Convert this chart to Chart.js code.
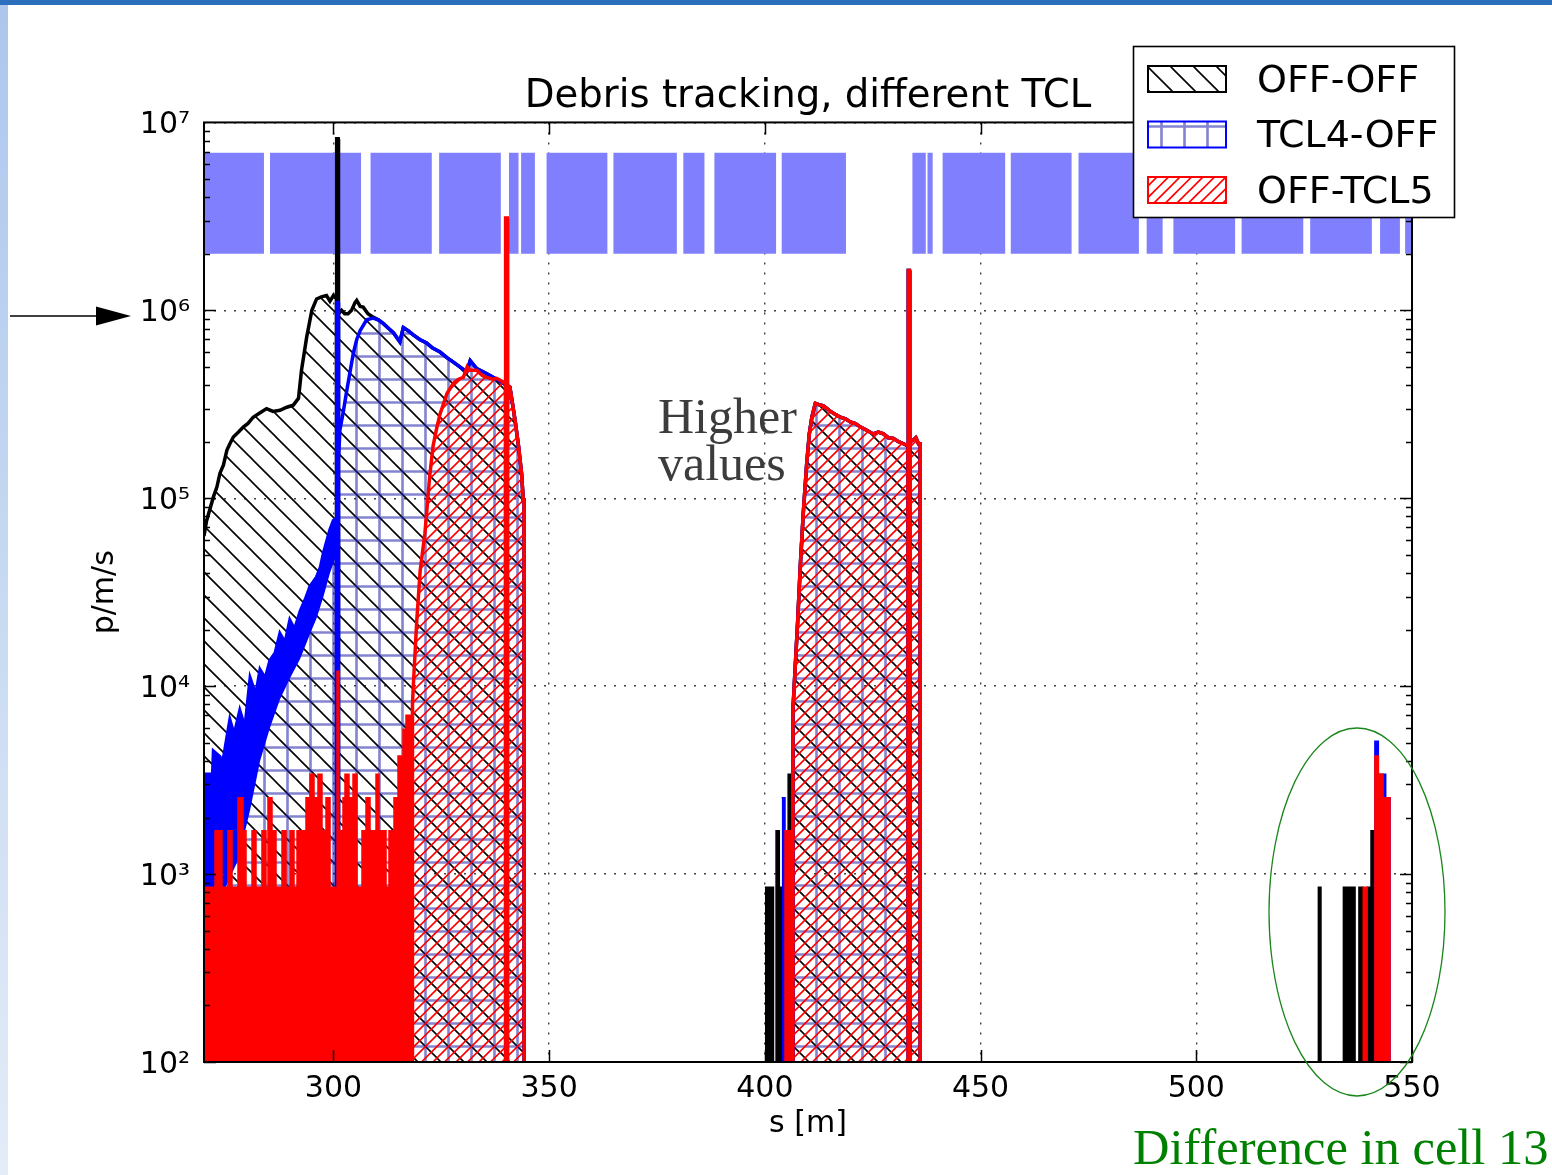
<!DOCTYPE html>
<html>
<head>
<meta charset="utf-8">
<title>Debris tracking, different TCL</title>
<script src="https://cdn.jsdelivr.net/npm/chart.js@4.4.1/dist/chart.umd.min.js"></script>
<style>
  html, body { margin: 0; padding: 0; background: #fff; }
  #wrap { position: relative; width: 1552px; height: 1175px; overflow: hidden; }
  #plot { position: absolute; left: 0; top: 0; }
  #topbar { position: absolute; left: 0; top: 0; width: 1552px; height: 5px; background: #2c6fbd; }
  #sidebar { position: absolute; left: 0; top: 5px; width: 8px; height: 1170px; background: linear-gradient(#adc7ec, #e3ecf7); }
  .note { position: absolute; font-family: "Liberation Serif", serif; white-space: nowrap; }
  #marks { position: absolute; left: 0; top: 0; pointer-events: none; }
</style>
</head>
<body>
<div id="wrap">
  <canvas id="plot" width="1552" height="1175"></canvas>
  <div id="topbar"></div>
  <div id="sidebar"></div>
  <svg id="marks" width="1552" height="1175">
    <line x1="10" y1="316" x2="100" y2="316" stroke="#000" stroke-width="1.5"/>
    <polygon points="96,306.5 131,316 96,325.5" fill="#000"/>
    <ellipse cx="1357" cy="912" rx="88" ry="184" fill="none" stroke="#1b861b" stroke-width="1.3"/>
  </svg>
  <div class="note" style="left:658px;top:393px;font-size:50px;line-height:47px;color:#3c3c3c;">Higher<br>values</div>
  <div class="note" style="left:1133px;top:1123px;font-size:50.5px;line-height:49px;color:#008000;">Difference in cell 13</div>
</div>

<script>
// ---- values: s [m], rate [p/m/s] ----
const EMPTY = 1; // empty bin, lands below the 1e2 floor

const xTicks = [300, 350, 400, 450, 500, 550];
const yTicks = [1e2, 1e3, 1e4, 1e5, 1e6, 1e7];
const yTickLabels = ["10²", "10³", "10⁴", "10⁵", "10⁶", "10⁷"];
const seriesNames = ["OFF-OFF", "TCL4-OFF", "OFF-TCL5"];

// machine elements (blue blocks on top)
const elemStart = [270, 285.3, 308.6, 324.5, 340.7, 343.5, 349.4, 364.9, 381.1, 388.3, 403.9, 434.2, 437.7, 441.2, 457.0, 472.7, 488.5, 494.7, 510.5, 526.4, 542.6, 548.4];
const elemEnd   = [283.9, 306.4, 322.8, 338.8, 342.9, 346.7, 363.5, 379.6, 386.0, 402.6, 418.8, 437.3, 438.9, 455.7, 471.1, 486.7, 492.2, 509.0, 524.8, 540.7, 547.2, 550];
const elemLow = 2e6, elemHigh = 6.9e6;

// OFF-OFF, upstream part
const offOffS = [270.0, 270.6, 271.4, 272.2, 273.0, 273.7, 274.5, 275.3, 276.0, 276.8, 278.0, 279.1, 280.2, 281.4, 283.0, 284.5, 286.0, 287.6, 289.2, 290.7, 291.9, 292.6, 293.8, 295.0, 296.1, 297.2, 298.4, 299.2, 300.0, 300.7, 300.72, 300.78, 301.1, 301.16, 301.2, 301.9, 302.6, 303.4, 304.2, 305.0, 305.4, 306.2, 306.9, 308.0, 309.2];
const offOffV = [6.3e4, 7.6e4, 8.8e4, 1.02e5, 1.15e5, 1.36e5, 1.5e5, 1.8e5, 1.95e5, 2.12e5, 2.25e5, 2.39e5, 2.5e5, 2.7e5, 2.85e5, 3.0e5, 2.9e5, 2.94e5, 3.05e5, 3.13e5, 3.4e5, 4.8e5, 7.2e5, 1.0e6, 1.15e6, 1.18e6, 1.2e6, 1.12e6, 1.2e6, 1.15e6, EMPTY, 8.2e6, 8.2e6, EMPTY, 9.6e5, 1.0e6, 9.6e5, 9.6e5, 1.0e6, 1.1e6, 1.13e6, 1.05e6, 1.04e6, 9.6e5, 9.2e5];

// TCL4-OFF, upstream part (top of the noisy rise)
const tcl4S = [270.0, 272.0, 272.2, 273.7, 274.0, 276.0, 277.0, 278.3, 279.5, 280.7, 282.0, 283.0, 284.2, 285.3, 286.5, 287.6, 288.8, 289.9, 291.0, 292.3, 293.5, 294.6, 296.1, 297.0, 297.7, 299.2, 300.0, 300.7, 300.72, 300.78, 301.1, 301.16, 301.2, 301.5, 302.3, 303.1, 304.6, 305.4, 306.2, 307.7, 309.2];
const tcl4V = [3.4e3, 3.4e3, 4.5e3, 4.2e3, 3.5e3, 6.6e3, 5.5e3, 7.4e3, 6.0e3, 1.1e4, 9.0e3, 1.22e4, 1.1e4, 1.37e4, 1.5e4, 1.9e4, 1.7e4, 2.24e4, 2.0e4, 2.5e4, 2.9e4, 3.4e4, 3.8e4, 4.3e4, 5.1e4, 6.8e4, 7.6e4, 7.8e4, EMPTY, 1.1e6, 1.1e6, EMPTY, 1.6e5, 2.3e5, 2.9e5, 3.75e5, 5.9e5, 7.0e5, 7.8e5, 8.9e5, 9.1e5];
// lower edge of the dense TCL4-OFF noise
const tcl4LowS = [270.0, 275.0, 278.0, 280.7, 283.0, 285.3, 287.6, 289.9, 292.3, 294.6, 296.1, 297.7, 299.2, 300.7];
const tcl4LowV = [850, 850, 1200, 2200, 4000, 6000, 8500, 1.1e4, 1.4e4, 1.9e4, 2.3e4, 3.0e4, 4.0e4, 5.0e4];

// 310-344 m: OFF-OFF and TCL4-OFF coincide
const sharedS = [310.4, 311.6, 312.8, 313.9, 315.4, 316.2, 317.3, 318.5, 320.0, 321.6, 323.0, 324.7, 326.3, 327.8, 329.3, 330.9, 331.7, 333.2, 334.8, 336.3, 338.6, 340.9, 342.1, 342.9, 343.6, 344.0, 344.2, 344.22];
const sharedV = [8.9e5, 8.5e5, 8.0e5, 7.6e5, 6.8e5, 8.1e5, 7.8e5, 7.4e5, 7.0e5, 6.7e5, 6.3e5, 6.0e5, 5.6e5, 5.3e5, 5.0e5, 4.7e5, 5.4e5, 4.9e5, 4.7e5, 4.5e5, 4.2e5, 3.9e5, 2.6e5, 1.9e5, 1.36e5, 9.8e4, 9.8e4, EMPTY];

// OFF-TCL5, first bump
const tcl5S = [318.3, 318.32, 318.5, 319.3, 320.1, 321.2, 321.6, 322.3, 323.1, 324.0, 324.7, 326.3, 327.8, 329.0, 330.1, 331.0, 331.7, 333.2, 334.5, 335.5, 337.0, 337.8, 339.85, 339.87, 339.95, 340.3, 340.38, 340.4, 340.9, 342.1, 342.9, 343.6, 344.0, 344.2, 344.22];
const tcl5V = [EMPTY, 8.0e3, 9.9e3, 2.2e4, 4.1e4, 6.5e4, 8.3e4, 1.3e5, 1.9e5, 2.4e5, 2.8e5, 3.6e5, 4.1e5, 4.3e5, 4.4e5, 5.0e5, 4.8e5, 4.8e5, 4.5e5, 4.4e5, 4.3e5, 4.35e5, 4.1e5, EMPTY, 3.1e6, 3.1e6, EMPTY, 4.0e5, 3.9e5, 2.6e5, 1.9e5, 1.36e5, 9.8e4, 9.8e4, EMPTY];

// 406-436 m: all three runs coincide
const downS = [406.45, 406.5, 407.0, 407.6, 408.2, 408.9, 409.7, 410.3, 410.9, 411.7, 412.5, 413.6, 414.4, 415.2, 416.3, 417.5, 418.7, 419.8, 421.0, 422.1, 423.6, 425.1, 426.3, 427.5, 428.6, 429.8, 431.0, 432.1, 433.2, 433.22, 433.28, 433.5, 433.56, 433.6, 434.4, 435.0, 435.6, 436.0, 436.02];
const downV = [EMPTY, 7.4e3, 1.22e4, 2.2e4, 4.3e4, 8.3e4, 1.53e5, 2.2e5, 2.7e5, 3.2e5, 3.15e5, 3.1e5, 3.0e5, 2.9e5, 2.8e5, 2.7e5, 2.65e5, 2.55e5, 2.5e5, 2.4e5, 2.3e5, 2.2e5, 2.25e5, 2.2e5, 2.1e5, 2.08e5, 2.0e5, 1.95e5, 1.9e5, EMPTY, 1.63e6, 1.63e6, EMPTY, 2.0e5, 2.04e5, 2.1e5, 1.95e5, 1.95e5, EMPTY];

// low-statistics bins (one count ~ 850 p/m/s), value holds from each bin start
const offOffLowS = [400.0, 402.0, 402.6, 403.35, 405.4, 406.3, 528.3, 528.9, 534.1, 536.8, 537.7, 538.6, 539.6, 540.5, 541.4];
const offOffLowV = [850, EMPTY, 1700, 850, 3400, EMPTY, 850, EMPTY, 850, EMPTY, 850, EMPTY, 850, 1700, EMPTY];
const tcl4LowBinsS = [403.9, 404.67, 541.4, 542.2, 543.9, 544.9];
const tcl4LowBinsV = [2550, EMPTY, 5100, 3400, 2550, EMPTY];
const tcl5LowS = [270.0, 272.55, 274.17, 275.56, 276.49, 277.88, 279.04, 279.74, 281.13, 282.05, 283.44, 284.37, 284.83, 285.76, 286.69, 288.08, 289.01, 289.93, 290.86, 291.56, 293.64, 294.57, 295.5, 296.42, 297.35, 298.28, 299.21, 300.83, 301.29, 301.99, 302.22, 302.68, 303.61, 304.54, 305.46, 306.62, 307.55, 308.48, 309.87, 310.56, 311.03, 311.26, 312.19, 312.88, 313.81, 314.04, 314.97, 316.13, 316.59, 316.82, 318.45, 404.67, 406.5, 538.7, 539.6, 541.4, 542.2, 543.3, 544.9];
const tcl5LowV = [850, 1700, 850, 1700, 850, 2550, 1700, 850, 1700, 850, 1700, 850, 2550, 1700, 850, 1700, 850, 1700, 850, 1700, 2550, 3400, 2550, 3400, 1700, 2550, 850, 1.2e4, 1700, EMPTY, 2550, 3400, 2550, 3400, 850, 1700, 2550, 1700, 3400, 1700, EMPTY, 1700, 850, 1700, EMPTY, 2550, 4250, 5900, EMPTY, 7000, EMPTY, 1700, EMPTY, 850, EMPTY, 4250, 3400, 2550, EMPTY];

// ---- helpers ----
const pts = (s, v) => s.map((x, i) => ({ x, y: v[i] }));

function hatch(kind, color, lw) {
  const n = 23;
  const c = document.createElement("canvas");
  c.width = c.height = n;
  const g = c.getContext("2d");
  g.strokeStyle = color;
  g.lineWidth = lw;
  g.beginPath();
  if (kind === "\\") {
    for (const k of [-n, 0, n]) { g.moveTo(k - 1, -1); g.lineTo(k + n + 1, n + 1); }
  } else if (kind === "/") {
    for (const k of [0, n / 2, n, 1.5 * n, 2 * n]) { g.moveTo(k + 1, -1); g.lineTo(k - n - 1, n + 1); }
  } else {
    g.moveTo(0, n / 2); g.lineTo(n, n / 2);
    g.moveTo(n / 2, 0); g.lineTo(n / 2, n);
  }
  g.stroke();
  return g.createPattern(c, "repeat");
}

const ctx = document.getElementById("plot").getContext("2d");
const hatchBlack = hatch("\\", "#000", 1.6);
const hatchBlue = hatch("+", "rgba(30,30,170,0.55)", 2.6);
const hatchRed = hatch("/", "#f00", 1.6);
const legendStyles = [
  { fill: hatchBlack, edge: "#000" },
  { fill: hatchBlue, edge: "#00f" },
  { fill: hatchRed, edge: "#f00" },
];

// element blocks as a comb outline filled down to elemLow
const elemPts = [];
elemStart.forEach((a, i) => {
  const b = elemEnd[i];
  elemPts.push({ x: a, y: elemLow }, { x: a, y: elemHigh }, { x: b, y: elemHigh }, { x: b, y: elemLow });
});

const line = (extra) => Object.assign({
  pointRadius: 0, borderWidth: 3.5, tension: 0, fill: "start", borderJoinStyle: "miter",
}, extra);

const datasets = [
  line({ label: "elements", data: elemPts, borderWidth: 0, backgroundColor: "#8080ff", fill: { value: elemLow }, order: 10 }),
  line({ label: seriesNames[0], data: pts([...offOffS, ...sharedS, ...downS, 550], [...offOffV, ...sharedV, ...downV, EMPTY]),
         borderColor: "#000", backgroundColor: hatchBlack, order: 9 }),
  line({ label: seriesNames[0] + " low", data: pts(offOffLowS, offOffLowV), stepped: true,
         borderColor: "#000", backgroundColor: "#000", borderWidth: 1.5, order: 8 }),
  line({ label: seriesNames[1], data: pts([...tcl4S, ...sharedS, ...downS, 550], [...tcl4V, ...sharedV, ...downV, EMPTY]),
         borderColor: "#00f", backgroundColor: hatchBlue, order: 7 }),
  line({ label: seriesNames[1] + " noise", data: pts(tcl4LowS, tcl4LowV), borderWidth: 0,
         backgroundColor: "#00f", fill: "-1", order: 6 }),
  line({ label: seriesNames[1] + " low", data: pts(tcl4LowBinsS, tcl4LowBinsV), stepped: true,
         borderColor: "#00f", backgroundColor: "#00f", borderWidth: 1.5, order: 5 }),
  line({ label: seriesNames[2], data: pts([...tcl5S, ...downS, 550], [...tcl5V, ...downV, EMPTY]),
         borderColor: "#f00", backgroundColor: hatchRed, order: 4 }),
  line({ label: seriesNames[2] + " low", data: pts(tcl5LowS, tcl5LowV), stepped: true,
         borderColor: "#f00", backgroundColor: "#f00", borderWidth: 1.5, order: 3 }),
];

// inside ticks, frame and the legend box
const framePlugin = {
  id: "frame",
  afterDraw(chart) {
    const { ctx: g, chartArea: a, scales: { x, y } } = chart;
    g.save();
    g.strokeStyle = "#000";
    g.lineWidth = 1.5;
    g.beginPath();
    xTicks.forEach((v) => {
      const px = Math.round(x.getPixelForValue(v)) + 0.5;
      g.moveTo(px, a.bottom); g.lineTo(px, a.bottom - 12);
      g.moveTo(px, a.top); g.lineTo(px, a.top + 12);
    });
    for (let e = 2; e <= 6; e++) {
      for (let m = 1; m <= 9; m++) {
        const py = Math.round(y.getPixelForValue(m * Math.pow(10, e))) + 0.5;
        const len = m === 1 ? 12 : 6;
        g.moveTo(a.left, py); g.lineTo(a.left + len, py);
        g.moveTo(a.right, py); g.lineTo(a.right - len, py);
      }
    }
    g.stroke();
    g.lineWidth = 2;
    g.strokeRect(a.left, a.top, a.right - a.left, a.bottom - a.top);

    // legend
    g.fillStyle = "#fff";
    g.fillRect(1133, 46, 322, 172);
    g.lineWidth = 1.6;
    g.strokeStyle = "#000";
    g.strokeRect(1133.5, 46.5, 321, 171);
    g.font = "38px 'DejaVu Sans'";
    g.textBaseline = "middle";
    g.textAlign = "left";
    seriesNames.forEach((name, i) => {
      const top = 66 + i * 55.5;
      g.fillStyle = legendStyles[i].fill;
      g.fillRect(1148, top, 78, 26);
      g.strokeStyle = legendStyles[i].edge;
      g.lineWidth = 2;
      g.strokeRect(1148, top, 78, 26);
      g.fillStyle = "#000";
      g.fillText(name, 1257, top + 16);
    });
    g.restore();
  },
};

Chart.defaults.font.family = "'DejaVu Sans', sans-serif";
Chart.defaults.color = "#000";

new Chart(ctx, {
  type: "line",
  data: { datasets },
  plugins: [framePlugin],
  options: {
    responsive: false,
    animation: false,
    events: [],
    layout: { padding: { top: 60, right: 140, left: 0, bottom: 0 } },
    plugins: {
      legend: { display: false },
      tooltip: { enabled: false },
      title: {
        display: true,
        text: "Debris tracking, different TCL",
        fullSize: false,
        font: { size: 38.7, weight: "normal" },
        padding: { top: 14, bottom: 2 },
      },
    },
    scales: {
      x: {
        type: "linear",
        min: 270,
        max: 550,
        z: 1,
        afterFit: (s) => { s.height = 113; },
        afterBuildTicks: (s) => { s.ticks = xTicks.map((v) => ({ value: v })); },
        ticks: { font: { size: 30 }, padding: 9, autoSkip: false, maxRotation: 0 },
        grid: { drawTicks: false, color: "rgba(0,0,0,0.75)", lineWidth: 1.4 },
        border: { display: false, dash: [2, 8] },
        title: { display: true, text: "s [m]", font: { size: 30 }, padding: { top: 0, bottom: 33 } },
      },
      y: {
        type: "logarithmic",
        min: 1e2,
        max: 1e7,
        z: 1,
        afterFit: (s) => { s.width = 204; },
        afterBuildTicks: (s) => { s.ticks = yTicks.map((v) => ({ value: v })); },
        ticks: { font: { size: 30 }, padding: 14, labelOffset: 3, callback: (v, i) => yTickLabels[i] },
        grid: { drawTicks: false, color: "rgba(0,0,0,0.75)", lineWidth: 1.4 },
        border: { display: false, dash: [2, 8] },
        title: { display: true, text: "p/m/s", font: { size: 30 }, padding: { top: 87, bottom: 0 } },
      },
    },
  },
});
</script>
</body>
</html>
